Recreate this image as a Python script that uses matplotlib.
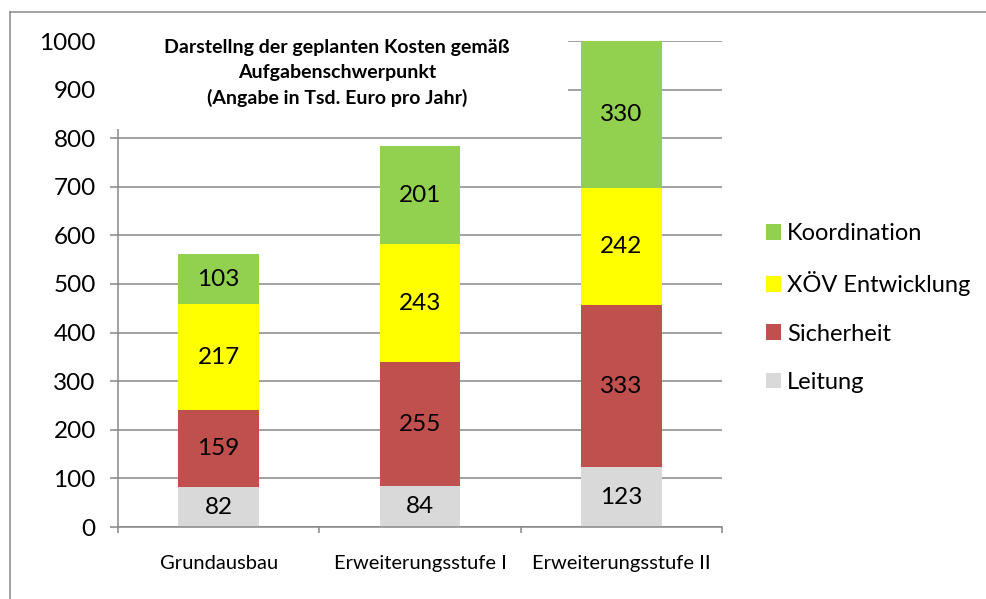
import matplotlib
matplotlib.use('Agg')
import matplotlib.pyplot as plt
from matplotlib.patches import Rectangle, Patch
from matplotlib.lines import Line2D
import numpy as np

categories = ['Grundausbau', 'Erweiterungsstufe I', 'Erweiterungsstufe II']
series_names = ['Leitung', 'Sicherheit', 'XÖV Entwicklung', 'Koordination']
leitung = [82, 84, 123]
sicherheit = [159, 255, 333]
xoev_entwicklung = [217, 243, 242]
koordination = [103, 201, 330]
series_values = [leitung, sicherheit, xoev_entwicklung, koordination]
colors = ['#D9D9D9', '#C0504D', '#FFFF00', '#92D050']
yticks = list(range(0, 1001, 100))
title_lines = ['Darstellng der geplanten Kosten gemäß',
               'Aufgabenschwerpunkt',
               '(Angabe in Tsd. Euro pro Jahr)']

FONT = 'Lato'
plt.rcParams['font.family'] = [FONT, 'DejaVu Sans']
GRID = '#878787'

W, H = 986, 599
fig = plt.figure(figsize=(W / 100, H / 100), dpi=100)
ax = fig.add_axes([118 / W, (H - 527) / H, (722 - 118) / W, (527 - 41) / H])

x = np.arange(len(categories))
ymax = 1000
bottom = np.zeros(len(categories))
for name, vals, col in zip(series_names, series_values, colors):
    vals = np.array(vals, dtype=float)
    ax.bar(x, vals, 0.4, bottom=bottom, color=col, label=name, zorder=2)
    for xi, b, v in zip(x, bottom, vals):
        top = min(b + v, ymax)
        ax.text(xi, (b + top) / 2, f'{int(v)}', ha='center', va='center',
                fontsize=17.5, color='black', zorder=3)
    bottom = bottom + vals

ax.set_xlim(-0.5, len(categories) - 0.5)
ax.set_ylim(0, ymax)
ax.set_yticks(yticks)
ax.set_yticklabels([str(t) for t in yticks])
ax.set_xticks(x)
ax.set_xticklabels(categories)
ax.set_xticks(np.arange(len(categories) + 1) - 0.5, minor=True)
ax.yaxis.grid(True, color=GRID, linewidth=1.1, zorder=0)
ax.set_axisbelow(True)
for s in ['top', 'right']:
    ax.spines[s].set_visible(False)
for s in ['left', 'bottom']:
    ax.spines[s].set_color(GRID)
    ax.spines[s].set_linewidth(1.1)
ax.tick_params(axis='y', length=6, width=1.1, color=GRID, pad=10, labelsize=17.5)
ax.tick_params(axis='x', which='major', length=0, pad=20, labelsize=14.5)
ax.tick_params(axis='x', which='minor', length=4.5, width=1.1, color=GRID)

# title box
fig.patches.append(Rectangle((110 / W, (H - 129) / H), (568 - 110) / W, (129 - 15) / H,
                             transform=fig.transFigure, facecolor='white',
                             edgecolor='none', zorder=5))
for i, line in enumerate(title_lines):
    fig.text(337 / W, (H - 47 - i * 25.5) / H, line, ha='center', va='center',
             fontsize=14, fontweight='bold', zorder=6)

# legend
handles = [Patch(facecolor=c, edgecolor='none') for c in colors][::-1]
fig.legend(handles, series_names[::-1], loc='center left',
           bbox_to_anchor=(766 / W, (H - 308) / H), frameon=False,
           fontsize=17, handlelength=0.64, handleheight=0.64, handletextpad=0.26,
           labelspacing=1.15, borderpad=0, borderaxespad=0)

# outer border
fig.add_artist(Line2D([9.5 / W, 9.5 / W], [0, (H - 11.5) / H], color=GRID, lw=1.1,
                      transform=fig.transFigure))
fig.add_artist(Line2D([9.5 / W, 1], [(H - 11.5) / H, (H - 11.5) / H], color=GRID, lw=1.1,
                      transform=fig.transFigure))

fig.savefig('out.png', dpi=100)
